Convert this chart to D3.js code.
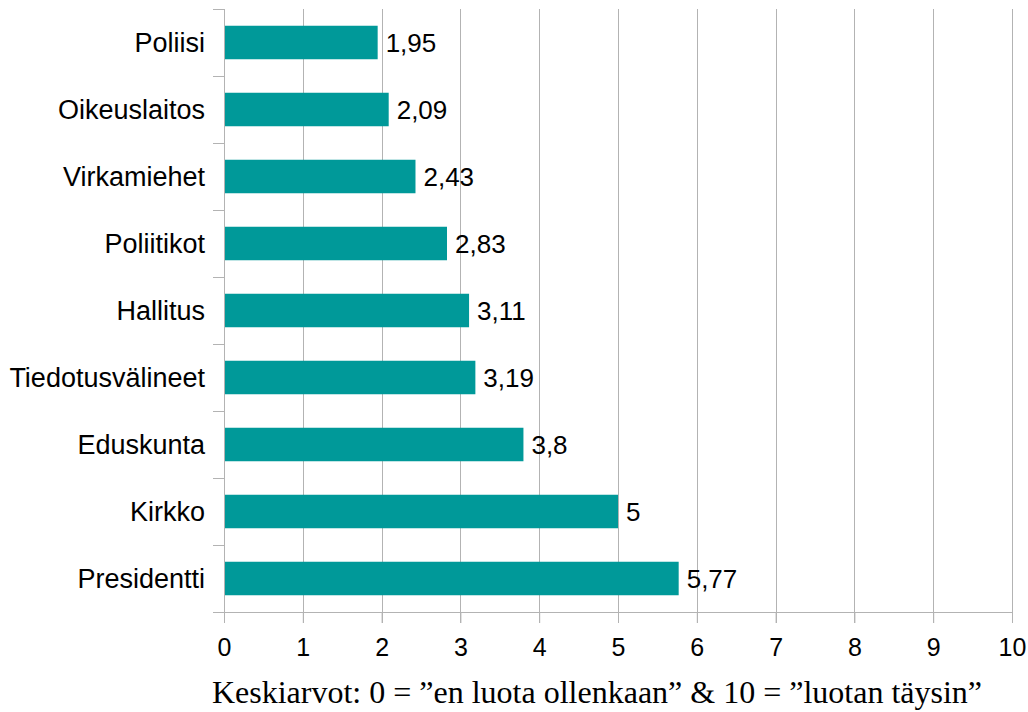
<!DOCTYPE html>
<meta charset="utf-8">
<style>
body { margin: 0; background: #fff; }
* { font-family: "Liberation Sans", Arial, sans-serif; }
.grid line { stroke: #b3b3b3; stroke-width: 1px; }
.axis path, .axis line { stroke: #b3b3b3; stroke-width: 1px; }
.axis text { fill: #000; font-size: 25px; }
.axis text.clabel { font-size: 27px; }
</style>
<body>
<script src="https://cdn.jsdelivr.net/npm/d3@7"></script>
<script>

// survey averages, 0..10
var categories = ["Poliisi", "Oikeuslaitos", "Virkamiehet", "Poliitikot", "Hallitus",
                  "Tiedotusvälineet", "Eduskunta", "Kirkko", "Presidentti"];
var values = [1.95, 2.09, 2.43, 2.83, 3.11, 3.19, 3.8, 5, 5.77];
var labels = ["1,95", "2,09", "2,43", "2,83", "3,11", "3,19", "3,8", "5", "5,77"];
var xTicks = [0, 1, 2, 3, 4, 5, 6, 7, 8, 9, 10];
var caption = "Keskiarvot: 0 = \u201Den luota ollenkaan\u201D & 10 = \u201Dluotan täysin\u201D";

var width = 1028, height = 712;
var plotLeft = 224, plotRight = 1012, plotTop = 9, plotBottom = 612;

var x = d3.scaleLinear().domain([0, 10]).range([plotLeft, plotRight]);
var y = d3.scaleBand().domain(categories).range([plotTop, plotBottom]).paddingInner(0.5).paddingOuter(0.25);

var svg = d3.select("body").append("svg")
    .attr("width", width)
    .attr("height", height);

// vertical grid lines
svg.append("g")
    .attr("class", "grid")
  .selectAll("line")
  .data(xTicks.slice(1))
  .enter().append("line")
    .attr("x1", function(d) { return Math.round(x(d)) + 0.5; })
    .attr("x2", function(d) { return Math.round(x(d)) + 0.5; })
    .attr("y1", plotTop)
    .attr("y2", plotBottom + 11);

// bottom axis
var xAxis = svg.append("g")
    .attr("class", "axis")
    .attr("transform", "translate(0," + plotBottom + ")")
    .call(d3.axisBottom(x).tickValues(xTicks).tickSize(11).tickSizeOuter(0).tickPadding(15));
xAxis.select(".domain").remove();
xAxis.append("line")
    .attr("x1", plotLeft - 11).attr("x2", plotRight)
    .attr("y1", 0.5).attr("y2", 0.5)
    .attr("stroke", "#b3b3b3");

// left axis: ticks at band boundaries
var ax = svg.append("g").attr("class", "axis");
ax.append("line")
    .attr("x1", plotLeft + 0.5).attr("x2", plotLeft + 0.5)
    .attr("y1", plotTop).attr("y2", plotBottom + 11);
var step = y.step();
var bounds = d3.range(categories.length).map(function(i) { return plotTop + i * step; });
ax.selectAll(".btick")
  .data(bounds)
  .enter().append("line")
    .attr("class", "btick")
    .attr("x1", plotLeft - 11).attr("x2", plotLeft)
    .attr("y1", function(d) { return Math.round(d) + 0.5; })
    .attr("y2", function(d) { return Math.round(d) + 0.5; });
ax.selectAll(".clabel")
  .data(categories)
  .enter().append("text")
    .attr("class", "clabel")
    .attr("x", plotLeft - 19)
    .attr("y", function(d) { return y(d) + y.bandwidth() / 2; })
    .attr("dy", "0.35em")
    .attr("text-anchor", "end")
    .text(function(d) { return d; });

// bars
svg.append("g")
  .selectAll("rect")
  .data(values)
  .enter().append("rect")
    .attr("x", x(0) + 1)
    .attr("y", function(d, i) { return y(categories[i]); })
    .attr("width", function(d) { return x(d) - x(0) - 1; })
    .attr("height", y.bandwidth())
    .attr("fill", "#009999");

// value labels
svg.append("g")
  .selectAll("text")
  .data(values)
  .enter().append("text")
    .attr("x", function(d) { return x(d) + 8; })
    .attr("y", function(d, i) { return y(categories[i]) + y.bandwidth() / 2; })
    .attr("dy", "0.35em")
    .attr("font-size", "26px")
    .text(function(d, i) { return labels[i]; });

// caption
svg.append("text")
    .attr("x", 597)
    .attr("y", 703)
    .attr("text-anchor", "middle")
    .style("font-family", "'Liberation Serif', 'Times New Roman', serif")
    .attr("font-size", "32px")
    .text(caption);

</script>
</body>
</html>
